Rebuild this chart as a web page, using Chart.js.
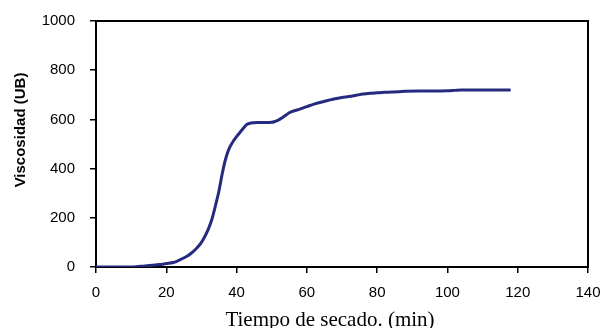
<!DOCTYPE html>
<html>
<head>
<meta charset="utf-8">
<script src="https://cdn.jsdelivr.net/npm/chart.js@4"></script>
<style>
  html, body { margin: 0; padding: 0; background: #fff; }
  canvas { display: block; }
</style>
</head>
<body>
<canvas id="viscoChart" width="601" height="328"></canvas>
<script>
const ctx = document.getElementById('viscoChart')

// tiempo de secado (min) y viscosidad (UB)
let tiempo = [0, 5, 10, 12, 14, 16, 18, 20, 22, 23, 24, 26, 27, 28, 29, 30, 31, 32, 33, 34, 35, 36, 37, 38, 39, 40,
    41, 42, 43, 44, 46, 48, 50, 51, 52, 53, 54, 55, 56, 58, 60, 62, 64, 66, 68, 70, 72, 74, 76, 78, 80,
    82, 84, 86, 88, 92, 96, 100, 102, 104, 108, 112, 118]
let viscosidad = [0, 0, 0, 2, 4, 7, 10, 14, 18, 23, 30, 45, 55, 67, 82, 100, 125, 155, 195, 250, 310, 385, 445, 485, 510, 530,
    548, 565, 580, 585, 587, 587, 588, 592, 598, 607, 617, 627, 633, 642, 652, 662, 670, 677, 684, 689, 693, 698, 703, 706, 708,
    710, 711, 712, 714, 715, 715, 716, 718, 720, 720, 720, 720]

let xTicks = [0, 20, 40, 60, 80, 100, 120, 140]
let yTicks = [0, 200, 400, 600, 800, 1000]

const points = tiempo.map((t, i) => ({ x: t, y: viscosidad[i] }))

// marco del area de trazado + titulos de ejes
const framePlugin = {
    id: 'frame',
    beforeDatasetsDraw(chart) {
        const a = chart.chartArea
        const c = chart.ctx
        c.save()
        c.strokeStyle = '#000'
        c.lineWidth = 2
        c.strokeRect(a.left, a.top, a.right - a.left, a.bottom - a.top)
        c.restore()
    },
    afterDraw(chart) {
        const c = chart.ctx
        c.save()
        c.fillStyle = '#000'
        c.font = 'bold 15px "Liberation Sans", Arial, sans-serif'
        c.textAlign = 'center'
        c.textBaseline = 'middle'
        c.translate(21, 130)
        c.rotate(-Math.PI / 2)
        c.fillText('Viscosidad (UB)', 0, 0)
        c.restore()

        c.save()
        c.fillStyle = '#000'
        c.font = '21px "Liberation Serif", "Times New Roman", serif'
        c.textAlign = 'center'
        c.textBaseline = 'alphabetic'
        c.fillText('Tiempo de secado. (min)', 330, 326)
        c.restore()
    }
}

new Chart(ctx, {
    type: 'scatter',
    data: {
        datasets: [{
            data: points,
            showLine: true,
            borderColor: '#262a7e',
            borderWidth: 3,
            pointRadius: 0,
            cubicInterpolationMode: 'monotone',
        }],
    },
    options: {
        responsive: false,
        animation: false,
        layout: {
            padding: { top: 21, right: 13, left: 0, bottom: 0 },
        },
        scales: {
            x: {
                type: 'linear',
                min: 0,
                max: 140,
                afterFit: (scale) => {
                    scale.height = 61
                    scale.paddingLeft = 0
                    scale.paddingRight = 0
                },
                afterBuildTicks: (scale) => { scale.ticks = xTicks.map(v => ({ value: v })) },
                border: { display: false },
                grid: {
                    drawOnChartArea: false,
                    drawTicks: true,
                    tickLength: 6,
                    color: '#000',
                    lineWidth: 1.5,
                },
                ticks: {
                    color: '#000',
                    padding: 11,
                    maxRotation: 0,
                    callback: (v) => String(v),
                    font: { size: 15, family: '"Liberation Sans", Arial, sans-serif' },
                },
            },
            y: {
                min: 0,
                max: 1000,
                afterFit: (scale) => {
                    scale.width = 96
                    scale.paddingTop = 0
                    scale.paddingBottom = 0
                },
                afterBuildTicks: (scale) => { scale.ticks = yTicks.map(v => ({ value: v })) },
                border: { display: false },
                grid: {
                    drawOnChartArea: false,
                    drawTicks: true,
                    tickLength: 6,
                    color: '#000',
                    lineWidth: 1.5,
                },
                ticks: {
                    color: '#000',
                    padding: 15,
                    callback: (v) => String(v),
                    font: { size: 15, family: '"Liberation Sans", Arial, sans-serif' },
                },
            },
        },
        plugins: {
            legend: { display: false },
            tooltip: { enabled: false },
        },
    },
    plugins: [framePlugin],
})
</script>
</body>
</html>
